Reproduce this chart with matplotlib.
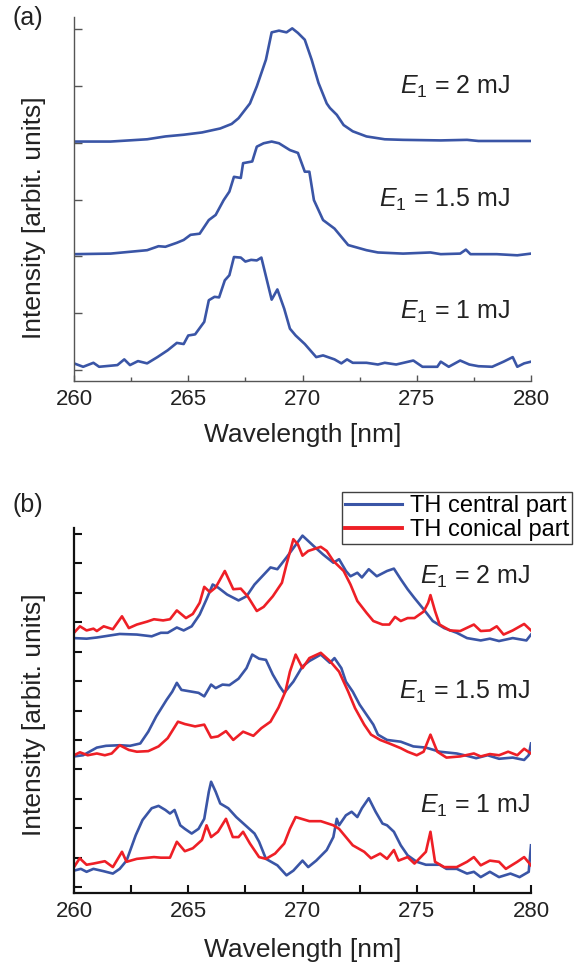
import matplotlib
matplotlib.use("Agg")
import matplotlib.pyplot as plt
from matplotlib.ticker import MultipleLocator

plt.rcParams['font.family'] = ['Liberation Sans', 'DejaVu Sans']
plt.rcParams['mathtext.fontset'] = 'custom'
plt.rcParams['mathtext.rm'] = 'Liberation Sans'
plt.rcParams['mathtext.it'] = 'Liberation Sans:italic'

BLUE = '#3a55a6'
RED = '#ee1f26'

# ---------------- panel (a): TH spectra, offset by pump energy ----------------
wl_a_2mJ = [260, 261.6, 263.2, 264.0, 264.8, 265.6, 266.4, 266.9, 267.2, 267.7, 268.0,
            268.4, 268.65, 268.97, 269.3, 269.55, 269.8, 270.1, 270.4, 270.7, 271.06,
            271.2, 271.5, 271.8, 272.2, 272.8, 273.6, 274.4, 276.05, 277.2, 277.7, 280]
int_a_2mJ = [4.02, 4.02, 4.06, 4.11, 4.14, 4.18, 4.25, 4.33, 4.43, 4.69, 4.99,
             5.46, 5.94, 5.97, 5.94, 6.01, 5.93, 5.81, 5.46, 5.05, 4.69,
             4.61, 4.49, 4.31, 4.20, 4.11, 4.06, 4.05, 4.04, 4.05, 4.03, 4.03]

wl_a_15mJ = [260, 261.6, 262.4, 263.2, 263.7, 264.0, 264.5, 264.8, 265.1, 265.5, 265.9,
             266.2, 266.55, 266.8, 267.0, 267.3, 267.4, 267.8, 268.0, 268.3, 268.65,
             268.97, 269.45, 269.8, 270.1, 270.3, 270.5, 270.9, 271.4, 272.0, 272.8,
             273.3, 274.4, 275.6, 276.05, 276.9, 277.15, 277.35, 278.5, 279.4, 280]
int_a_15mJ = [2.04, 2.05, 2.08, 2.11, 2.18, 2.17, 2.24, 2.29, 2.38, 2.40, 2.64,
              2.73, 2.99, 3.14, 3.40, 3.38, 3.64, 3.67, 3.93, 3.99, 4.02,
              3.99, 3.87, 3.82, 3.49, 3.49, 2.99, 2.64, 2.49, 2.20, 2.11,
              2.07, 2.05, 2.07, 2.04, 2.05, 2.12, 2.04, 2.04, 2.02, 2.05]

wl_a_1mJ = [260, 260.4, 260.85, 261.1, 261.9, 262.2, 262.45, 262.8, 263.2, 263.65, 264.1,
            264.5, 264.8, 265.0, 265.3, 265.7, 265.9, 266.15, 266.35, 266.6, 266.8,
            267.0, 267.3, 267.5, 267.75, 268.0, 268.2, 268.65, 268.9, 269.2, 269.45,
            269.7, 270.1, 270.6, 270.9, 271.4, 271.7, 271.95, 272.2, 272.8, 273.3,
            273.6, 274.1, 274.85, 275.25, 275.9, 276.05, 276.4, 276.9, 277.3, 277.7,
            278.3, 278.8, 279.2, 279.4, 279.7, 280]
int_a_1mJ = [0.12, 0.06, 0.13, 0.06, 0.09, 0.19, 0.09, 0.16, 0.12, 0.23, 0.35,
             0.48, 0.46, 0.61, 0.63, 0.85, 1.23, 1.29, 1.28, 1.58, 1.67,
             1.99, 1.98, 1.91, 1.94, 1.93, 1.98, 1.24, 1.42, 1.08, 0.73,
             0.61, 0.46, 0.23, 0.26, 0.19, 0.12, 0.19, 0.13, 0.13, 0.10,
             0.13, 0.10, 0.17, 0.06, 0.06, 0.15, 0.06, 0.17, 0.10, 0.07,
             0.06, 0.15, 0.23, 0.06, 0.12, 0.15]

labels_a = [r'$\mathit{E}_1$ = 2 mJ', r'$\mathit{E}_1$ = 1.5 mJ', r'$\mathit{E}_1$ = 1 mJ']

# ---------------- panel (b): central vs. conical TH part ----------------
wl_b_2mJ_central = [260, 260.55, 261.0, 262.0, 262.75, 263.4, 263.8, 264.1, 264.5, 264.8,
                    265.15, 265.5, 265.8, 266.07, 266.3, 266.7, 267.2, 267.55, 267.9,
                    268.6, 268.9, 269.3, 270.0, 270.47, 270.9, 271.35, 271.6, 271.9,
                    272.1, 272.4, 272.6, 272.9, 273.25, 273.7, 274.0, 274.3, 274.6,
                    274.9, 275.3, 275.7, 276.2, 276.75, 277.2, 277.8, 278.2, 278.6,
                    279.2, 279.8, 280]
int_b_2mJ_central = [4.23, 4.22, 4.24, 4.30, 4.29, 4.26, 4.32, 4.32, 4.41, 4.36,
                     4.43, 4.63, 4.89, 5.14, 5.09, 4.97, 4.87, 4.94, 5.14,
                     5.43, 5.40, 5.60, 5.97, 5.80, 5.65, 5.51, 5.57, 5.37,
                     5.28, 5.34, 5.26, 5.40, 5.28, 5.37, 5.41, 5.23, 5.06,
                     4.91, 4.72, 4.52, 4.40, 4.32, 4.23, 4.19, 4.22, 4.18,
                     4.23, 4.19, 4.29]

wl_b_2mJ_conical = [260, 260.26, 260.55, 260.85, 261.0, 261.3, 261.7, 262.1, 262.4, 262.75,
                    263.2, 263.5, 263.9, 264.2, 264.5, 264.9, 265.2, 265.5, 265.7, 265.95,
                    266.2, 266.6, 266.97, 267.3, 267.6, 268.0, 268.3, 268.7, 269.1, 269.3,
                    269.6, 269.8, 270.0, 270.25, 270.8, 271.06, 271.35, 271.8, 272.1,
                    272.4, 272.8, 273.1, 273.5, 273.8, 274.05, 274.3, 274.6, 274.9, 275.3,
                    275.5, 275.6, 275.8, 276.0, 276.45, 276.9, 277.5, 277.8, 278.2,
                    278.5, 278.8, 279.2, 279.7, 280]
int_b_2mJ_conical = [4.32, 4.43, 4.36, 4.39, 4.35, 4.43, 4.38, 4.60, 4.40, 4.46,
                     4.51, 4.55, 4.53, 4.55, 4.70, 4.57, 4.64, 4.83, 5.10, 5.01,
                     5.09, 5.37, 5.06, 5.07, 4.94, 4.69, 4.76, 4.94, 5.17, 5.48,
                     5.91, 5.82, 5.63, 5.71, 5.78, 5.71, 5.54, 5.37, 5.14,
                     4.86, 4.66, 4.52, 4.46, 4.46, 4.59, 4.52, 4.57, 4.57, 4.68,
                     4.83, 4.96, 4.69, 4.46, 4.36, 4.35, 4.46, 4.35, 4.36,
                     4.43, 4.29, 4.36, 4.47, 4.36]

wl_b_15mJ_central = [260, 260.4, 261.0, 261.4, 262.0, 262.45, 262.9, 263.25, 263.6, 264.05,
                     264.3, 264.5, 264.7, 265.15, 265.45, 265.7, 266.0, 266.2, 266.5,
                     266.8, 267.2, 267.55, 267.8, 268.1, 268.4, 268.7, 269.0, 269.2,
                     269.6, 270.0, 270.3, 270.8, 271.2, 271.4, 271.7, 271.9, 272.2,
                     272.5, 272.8, 273.1, 273.3, 273.7, 274.3, 274.85, 275.4, 276.0,
                     276.75, 277.2, 277.6, 278.1, 278.6, 279.2, 279.7, 279.9, 280]
int_b_15mJ_central = [2.22, 2.24, 2.37, 2.40, 2.41, 2.40, 2.44, 2.64, 2.90, 3.18,
                      3.32, 3.47, 3.35, 3.32, 3.30, 3.24, 3.44, 3.38, 3.44,
                      3.43, 3.54, 3.72, 3.95, 3.88, 3.86, 3.61, 3.41, 3.30,
                      3.49, 3.75, 3.84, 3.95, 3.81, 3.89, 3.72, 3.49, 3.32,
                      3.10, 2.93, 2.76, 2.59, 2.50, 2.47, 2.39, 2.37, 2.30,
                      2.27, 2.23, 2.19, 2.24, 2.18, 2.20, 2.16, 2.24, 2.44]

wl_b_15mJ_conical = [260, 260.26, 260.6, 261.0, 261.35, 261.65, 262.0, 262.4, 262.75, 263.25,
                     263.7, 264.1, 264.55, 264.85, 265.3, 265.7, 266.0, 266.3, 266.65,
                     266.97, 267.4, 267.85, 268.2, 268.6, 268.95, 269.25, 269.45, 269.7,
                     270.0, 270.3, 270.8, 271.2, 271.6, 272.0, 272.3, 272.7, 273.0,
                     273.4, 273.8, 274.3, 274.6, 275.0, 275.3, 275.6, 275.9, 276.3,
                     276.9, 277.5, 277.8, 278.2, 278.6, 279.0, 279.4, 279.7, 280]
int_b_15mJ_conical = [2.24, 2.29, 2.24, 2.27, 2.24, 2.27, 2.41, 2.33, 2.30, 2.31,
                      2.39, 2.53, 2.81, 2.77, 2.73, 2.76, 2.54, 2.56, 2.65,
                      2.50, 2.64, 2.57, 2.70, 2.81, 3.05, 3.32, 3.66, 3.95,
                      3.72, 3.89, 3.98, 3.84, 3.66, 3.32, 3.04, 2.76, 2.59,
                      2.50, 2.44, 2.36, 2.30, 2.24, 2.30, 2.59, 2.30, 2.20,
                      2.22, 2.27, 2.22, 2.26, 2.24, 2.30, 2.24, 2.35, 2.27]

wl_b_1mJ_central = [260, 260.3, 260.55, 260.85, 261.3, 261.7, 262.0, 262.3, 262.7, 263.0,
                    263.4, 263.7, 264.0, 264.2, 264.4, 264.65, 264.85, 265.15, 265.45,
                    265.7, 265.9, 266.0, 266.2, 266.4, 266.75, 267.1, 267.5, 267.9,
                    268.1, 268.4, 268.9, 269.3, 269.6, 270.0, 270.25, 270.6, 271.06,
                    271.35, 271.5, 271.6, 271.9, 272.15, 272.4, 272.6, 272.9, 273.2,
                    273.5, 273.7, 274.0, 274.3, 274.6, 275.0, 275.4, 276.0, 276.3,
                    276.75, 277.2, 277.5, 277.8, 278.2, 278.6, 279.1, 279.5, 279.9, 280]
int_b_1mJ_central = [0.28, 0.31, 0.26, 0.31, 0.27, 0.23, 0.31, 0.45, 0.88, 1.14,
                     1.34, 1.38, 1.31, 1.25, 1.31, 1.05, 0.99, 0.91, 0.99,
                     1.16, 1.62, 1.79, 1.62, 1.42, 1.34, 1.19, 1.05, 0.91,
                     0.77, 0.48, 0.37, 0.20, 0.28, 0.45, 0.34, 0.45, 0.63,
                     0.85, 1.16, 1.05, 1.22, 1.28, 1.19, 1.34, 1.51, 1.28,
                     1.08, 1.05, 0.94, 0.71, 0.54, 0.43, 0.38, 0.38, 0.31,
                     0.31, 0.23, 0.26, 0.17, 0.26, 0.17, 0.23, 0.17, 0.26, 0.71]

wl_b_1mJ_conical = [260, 260.25, 260.55, 260.85, 261.35, 261.7, 262.1, 262.3, 262.75, 263.5,
                    263.8, 264.2, 264.5, 264.85, 265.2, 265.6, 265.8, 266.0, 266.3,
                    266.65, 266.95, 267.2, 267.4, 267.7, 268.1, 268.4, 268.8, 269.2,
                    269.45, 269.7, 270.3, 270.8, 271.35, 271.6, 271.9, 272.2, 272.7,
                    273.0, 273.4, 273.7, 274.0, 274.2, 274.6, 274.9, 275.4, 275.6,
                    275.8, 276.2, 276.75, 277.2, 277.5, 277.8, 278.2, 278.6, 278.9,
                    279.4, 279.7, 280]
int_b_1mJ_conical = [0.34, 0.49, 0.38, 0.40, 0.44, 0.34, 0.60, 0.43, 0.48, 0.51,
                     0.50, 0.50, 0.77, 0.61, 0.66, 0.80, 1.05, 0.85, 0.94,
                     1.16, 0.85, 0.85, 0.94, 0.74, 0.51, 0.48, 0.57, 0.74,
                     0.99, 1.19, 1.12, 1.12, 1.05, 0.99, 0.85, 0.71, 0.60,
                     0.49, 0.57, 0.48, 0.63, 0.45, 0.51, 0.40, 0.60, 0.94,
                     0.43, 0.34, 0.34, 0.43, 0.51, 0.37, 0.45, 0.43, 0.31,
                     0.43, 0.51, 0.37]

labels_b = [r'$\mathit{E}_1$ = 2 mJ', r'$\mathit{E}_1$ = 1.5 mJ', r'$\mathit{E}_1$ = 1 mJ']
legend_labels = ['TH central part', 'TH conical part']

xticks = [260, 265, 270, 275, 280]

W, H = 576, 967
fig = plt.figure(figsize=(W / 100, H / 100), dpi=100)


def px_axes(left, top, right, bottom):
    return fig.add_axes([left / W, 1 - bottom / H, (right - left) / W, (bottom - top) / H])


TICK_FS = 16
LABEL_FS = 19
TEXT_FS = 18
LW = 1.9
INK = '#222222'

# ---- panel (a) ----
ax1 = px_axes(74, 17, 531, 381)
for wl, val in [(wl_a_2mJ, int_a_2mJ), (wl_a_15mJ, int_a_15mJ), (wl_a_1mJ, int_a_1mJ)]:
    ax1.plot(wl, val, color=BLUE, lw=LW, solid_joinstyle='round')
ax1.set_xlim(260, 280)
ax1.set_ylim(-0.19, 6.21)
ax1.set_xticks(xticks)
ax1.xaxis.set_minor_locator(MultipleLocator(2.5))
ax1.yaxis.set_major_locator(MultipleLocator(1))
ax1.set_yticklabels([])
for s in ('top', 'right'):
    ax1.spines[s].set_visible(False)
for s in ('left', 'bottom'):
    ax1.spines[s].set_color('#555555')
    ax1.spines[s].set_linewidth(1.0)
ax1.tick_params(axis='both', which='both', direction='in', color='#555555', width=1.0)
ax1.tick_params(axis='y', which='major', length=6)
ax1.tick_params(axis='x', which='major', length=4.5, labelsize=TICK_FS, pad=6, labelcolor=INK)
ax1.tick_params(axis='x', which='minor', length=3)
ax1.set_xlabel('Wavelength [nm]', fontsize=LABEL_FS, color=INK, labelpad=9)
ax1.set_ylabel('Intensity [arbit. units]', fontsize=LABEL_FS, color=INK)
ax1.yaxis.set_label_coords(-0.062, 0.448)

# ---- panel (b) ----
ax2 = px_axes(74, 528, 531, 893)
series_b = [(wl_b_2mJ_central, int_b_2mJ_central, wl_b_2mJ_conical, int_b_2mJ_conical),
            (wl_b_15mJ_central, int_b_15mJ_central, wl_b_15mJ_conical, int_b_15mJ_conical),
            (wl_b_1mJ_central, int_b_1mJ_central, wl_b_1mJ_conical, int_b_1mJ_conical)]
handles = None
for wc, vc, wk, vk in series_b:
    hc, = ax2.plot(wc, vc, color=BLUE, lw=LW, solid_joinstyle='round')
    hk, = ax2.plot(wk, vk, color=RED, lw=LW, solid_joinstyle='round')
    if handles is None:
        handles = [hc, hk]
ax2.set_xlim(260, 280)
ax2.set_ylim(-0.10, 6.1)
ax2.set_xticks(xticks)
ax2.xaxis.set_minor_locator(MultipleLocator(2.5))
ax2.yaxis.set_major_locator(MultipleLocator(0.5))
ax2.set_yticklabels([])
for s in ('top', 'right'):
    ax2.spines[s].set_visible(False)
for s in ('left', 'bottom'):
    ax2.spines[s].set_color('#111111')
    ax2.spines[s].set_linewidth(1.6)
ax2.tick_params(axis='both', which='both', direction='in', color='#111111', width=1.5)
ax2.tick_params(axis='both', which='major', length=6)
ax2.tick_params(axis='x', which='minor', length=6)
ax2.tick_params(axis='x', labelsize=TICK_FS, pad=6, labelcolor=INK)
ax2.set_xlabel('Wavelength [nm]', fontsize=LABEL_FS, color=INK, labelpad=11)
ax2.set_ylabel('Intensity [arbit. units]', fontsize=LABEL_FS, color=INK)
ax2.yaxis.set_label_coords(-0.062, 0.488)


# energy annotations, right-aligned inside each panel
def put_labels(ax, labels, ys_px, top_px, bot_px, right_px):
    for txt, yp in zip(labels, ys_px):
        ax.text((right_px - 74) / 457, (bot_px - yp) / (bot_px - top_px), txt,
                transform=ax.transAxes, ha='right', va='center',
                fontsize=TEXT_FS, color=INK)


put_labels(ax1, labels_a, [87, 200, 312], 17, 381, 510)
put_labels(ax2, labels_b, [577, 692, 806], 528, 893, 530)

fig.text(12 / W, 1 - 18 / H, '(a)', fontsize=TEXT_FS, va='center', ha='left', color=INK)
fig.text(12 / W, 1 - 505 / H, '(b)', fontsize=TEXT_FS, va='center', ha='left', color=INK)

leg = fig.legend(handles=handles, labels=legend_labels, loc='upper right',
                 bbox_to_anchor=(572 / W, 1 - 492 / H), fontsize=17,
                 frameon=True, fancybox=False, borderaxespad=0, borderpad=0.12,
                 handlelength=2.4, handletextpad=0.35, labelspacing=0.1)
leg.get_frame().set_edgecolor('#111111')
leg.get_frame().set_linewidth(1.0)
leg.legend_handles[0].set_linewidth(2.2)
leg.legend_handles[1].set_linewidth(2.8)

fig.savefig('out.png', dpi=100)
